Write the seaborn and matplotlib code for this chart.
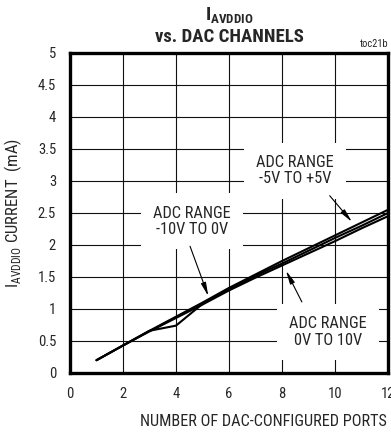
import matplotlib
matplotlib.use("Agg")
import matplotlib.pyplot as plt
import seaborn as sns
import pandas as pd

# Supply current vs. number of DAC-configured ports, one series per ADC range
ports = [1, 2, 3, 4, 5, 6, 7, 8, 9, 10, 11, 12]
adc_neg10_to_0 = [0.20, 0.43, 0.66, 0.74, 1.08, 1.31, 1.52, 1.71, 1.91, 2.11, 2.30, 2.50]
adc_neg5_to_5 = [0.20, 0.43, 0.66, 0.88, 1.10, 1.33, 1.54, 1.75, 1.95, 2.15, 2.35, 2.55]
adc_0_to_10 = [0.20, 0.43, 0.65, 0.86, 1.07, 1.29, 1.49, 1.68, 1.87, 2.06, 2.26, 2.45]

series_names = ["-10V TO 0V", "-5V TO +5V", "0V TO 10V"]
x_ticks = [0, 2, 4, 6, 8, 10, 12]
y_ticks = [0, 0.5, 1, 1.5, 2, 2.5, 3, 3.5, 4, 4.5, 5]
y_tick_labels = ["0", "0.5", "1", "1.5", "2", "2.5", "3", "3.5", "4", "4.5", "5"]

df = pd.DataFrame({
    "ports": ports * 3,
    "current": adc_neg10_to_0 + adc_neg5_to_5 + adc_0_to_10,
    "range": sum([[n] * len(ports) for n in series_names], []),
})

sns.set_style("white")
plt.rcParams["font.family"] = ["Roboto Condensed", "Liberation Sans Narrow", "Liberation Sans", "DejaVu Sans"]
plt.rcParams["font.stretch"] = "condensed"

fig = plt.figure(figsize=(3.91, 4.32), dpi=100)
ax = fig.add_axes([70 / 391, 1 - 373 / 432, 318 / 391, 320 / 432])

sns.lineplot(data=df, x="ports", y="current", units="range", estimator=None,
             color="black", linewidth=1.5, ax=ax, zorder=3)

ax.set_xlim(0, 12)
ax.set_ylim(0, 5)
ax.set_xticks(x_ticks)
ax.set_yticks(y_ticks)
ax.set_yticklabels(y_tick_labels)
ax.tick_params(length=0, labelsize=10.5, pad=10)
ax.tick_params(axis="x", pad=10)
ax.grid(True, color="#111111", linewidth=0.8, zorder=0)
ax.set_axisbelow(True)
for sp in ax.spines.values():
    sp.set_visible(True)
    sp.set_color("black")
    sp.set_linewidth(2.4)

ax.set_xlabel("")
ax.set_ylabel("I$_{\\mathregular{AVDDIO}}$ CURRENT  (mA)", fontsize=12, labelpad=10)
fig.text(387 / 391, 1 - 422 / 432, "NUMBER OF DAC-CONFIGURED PORTS", ha="right",
         va="center", fontsize=11.7)

# Title block
fig.text(229 / 391, 1 - 21 / 432, "I$_{\\mathregular{AVDDIO}}$", ha="center", va="baseline",
         fontsize=13.5, fontweight="bold")
fig.text(229 / 391, 1 - 37.5 / 432, "vs. DAC CHANNELS", ha="center", va="center",
         fontsize=13.5, fontweight="bold")
fig.text(388 / 391, 1 - 44 / 432, "toc21b", ha="right", va="center", fontsize=7.5)

box = dict(boxstyle="square,pad=0.75", facecolor="white", edgecolor="none")
arrow = dict(arrowstyle="-|>,head_length=0.8,head_width=0.15", color="black",
             linewidth=0.8, shrinkA=0, shrinkB=0)

# Callouts for each ADC range
ax.text(8.5, 3.16, "ADC RANGE\n-5V TO +5V", ha="center", va="center",
        fontsize=11.8, linespacing=1.1, bbox=box, zorder=2)
ax.annotate("", xy=(10.64, 2.36), xytext=(9.8, 2.77), arrowprops=arrow, zorder=4)

ax.text(4.6, 2.37, "ADC RANGE\n-10V TO 0V", ha="center", va="center",
        fontsize=11.8, linespacing=1.1, bbox=box, zorder=2)
ax.annotate("", xy=(5.22, 1.2), xytext=(4.53, 1.98), arrowprops=arrow, zorder=4)

ax.text(9.74, 0.64, "ADC RANGE\n0V TO 10V", ha="center", va="center",
        fontsize=11.8, linespacing=1.1, bbox=box, zorder=2)
ax.annotate("", xy=(8.15, 1.6), xytext=(8.75, 1.11), arrowprops=arrow, zorder=4)

fig.savefig("out.png", dpi=100)
